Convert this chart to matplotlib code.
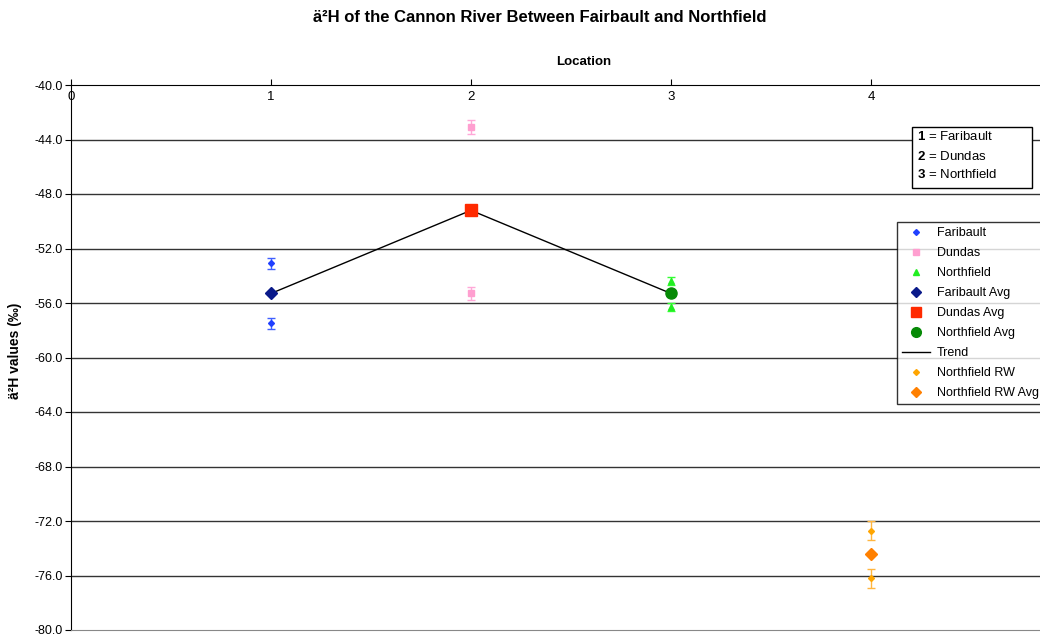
import matplotlib
matplotlib.use("Agg")
import matplotlib.pyplot as plt
from matplotlib.lines import Line2D
from matplotlib.patches import Rectangle

plt.rcParams['font.family'] = ['Liberation Sans', 'DejaVu Sans']
plt.rcParams['mathtext.fontset'] = 'custom'
plt.rcParams['mathtext.rm'] = 'Liberation Sans'
plt.rcParams['mathtext.bf'] = 'Liberation Sans:bold'

# sample values (delta 2H, permil)
faribault_x = [1, 1]
faribault_y = [-53.1, -57.5]
faribault_err = [0.4, 0.4]
dundas_x = [2, 2]
dundas_y = [-43.1, -55.3]
dundas_err = [0.5, 0.5]
northfield_x = [3, 3]
northfield_y = [-54.4, -56.3]
northfield_err = [0.3, 0.3]
rw_x = [4, 4]
rw_y = [-72.7, -76.2]
rw_err = [0.7, 0.7]

avg_x = [1, 2, 3]
avg_y = [-55.3, -49.2, -55.3]
rw_avg_x = [4]
rw_avg_y = [-74.4]

yticks = [-40, -44, -48, -52, -56, -60, -64, -68, -72, -76, -80]
xticks = [0, 1, 2, 3, 4]

fig = plt.figure(figsize=(10.4, 6.41), dpi=100)
ax = fig.add_axes([71/1040, 11/641, 1 - 71/1040, 545/641])

for y in yticks[1:-1]:
    ax.axhline(y, color="#333333", lw=1, zorder=1)

ax.errorbar(faribault_x, faribault_y, yerr=faribault_err, fmt="D", ms=3,
            color="#2040FF", ecolor="#4060FF", capsize=3, lw=1, zorder=3)
ax.errorbar(dundas_x, dundas_y, yerr=dundas_err, fmt="s", ms=5,
            color="#FF9FD0", ecolor="#FFA8D8", capsize=3, lw=1, zorder=3)
ax.errorbar(northfield_x, northfield_y, yerr=northfield_err, fmt="^", ms=5,
            color="#22EE22", ecolor="#33FF33", capsize=3, lw=1, zorder=3)
ax.errorbar(rw_x, rw_y, yerr=rw_err, fmt="D", ms=3,
            color="#FFA500", ecolor="#FFB640", capsize=3, lw=1, zorder=3)

ax.plot(avg_x, avg_y, color="black", lw=1, zorder=2)
ax.plot(avg_x[0], avg_y[0], "D", ms=6, color="#0A1A8A", zorder=4)
ax.plot(avg_x[1], avg_y[1], "s", ms=8, color="#FF2A00", zorder=4)
ax.plot(avg_x[2], avg_y[2], "o", ms=8, color="#068A06", zorder=4)
ax.plot(rw_avg_x, rw_avg_y, "D", ms=6, color="#FF8000", zorder=4)

ax.set_xlim(0, 4.845)
ax.set_ylim(-80, -40)
ax.set_yticks(yticks)
ax.set_yticklabels(["%.1f" % v for v in yticks], fontsize=9)
ax.set_xticks(xticks)
ax.set_xticklabels([str(v) for v in xticks], fontsize=9.5)
ax.tick_params(axis="x", top=True, bottom=False, labeltop=True, labelbottom=False,
               direction="out", length=4, pad=-17)
ax.tick_params(axis="y", direction="out", length=4, pad=2)
ax.spines["right"].set_visible(False)
ax.spines["bottom"].set_color("#888888")
ax.spines["top"].set_color("black")

fig.text(540/1040, 1 - 17/641, "ä²H of the Cannon River Between Fairbault and Northfield",
         ha="center", va="center", fontsize=12, fontweight="bold")
fig.text(584/1040, 1 - 62/641, "Location", ha="center", va="center",
         fontsize=9.5, fontweight="bold")
fig.text(15/1040, 1 - 351/641, "ä²H values (‰)", ha="center", va="center",
         rotation=90, fontsize=10, fontweight="bold")

# location key box
fig.add_artist(Rectangle((912/1040, 1 - 188/641), 120/1040, 61/641,
                         transform=fig.transFigure, fc="white", ec="black", lw=1, zorder=5))
key_lines = ["$\\bf{1}$ = Faribault", "$\\bf{2}$ = Dundas", "$\\bf{3}$ = Northfield"]
for i, s in enumerate(key_lines):
    fig.text(917/1040, 1 - (137 + i * 19)/641, s, ha="left", va="center",
             fontsize=9.5, zorder=6)

handles = [
    Line2D([], [], ls="none", marker="D", ms=3, color="#2040FF"),
    Line2D([], [], ls="none", marker="s", ms=5, color="#FF9FD0"),
    Line2D([], [], ls="none", marker="^", ms=5, color="#22EE22"),
    Line2D([], [], ls="none", marker="D", ms=5.5, color="#0A1A8A"),
    Line2D([], [], ls="none", marker="s", ms=7, color="#FF2A00"),
    Line2D([], [], ls="none", marker="o", ms=7, color="#068A06"),
    Line2D([], [], color="black", lw=1),
    Line2D([], [], ls="none", marker="D", ms=3, color="#FFA500"),
    Line2D([], [], ls="none", marker="D", ms=5.5, color="#FF8000"),
]
labels = ["Faribault", "Dundas", "Northfield", "Faribault Avg", "Dundas Avg",
          "Northfield Avg", "Trend", "Northfield RW", "Northfield RW Avg"]
leg = fig.legend(handles, labels, loc="upper left", bbox_to_anchor=(897/1040, 1 - 222/641),
                 borderaxespad=0, fontsize=9, frameon=True, fancybox=False,
                 handlelength=2.2, labelspacing=0.64, borderpad=0.4, handletextpad=0.6)
leg.get_frame().set_edgecolor("black")
leg.get_frame().set_linewidth(1)

fig.savefig("out.png", dpi=100)
